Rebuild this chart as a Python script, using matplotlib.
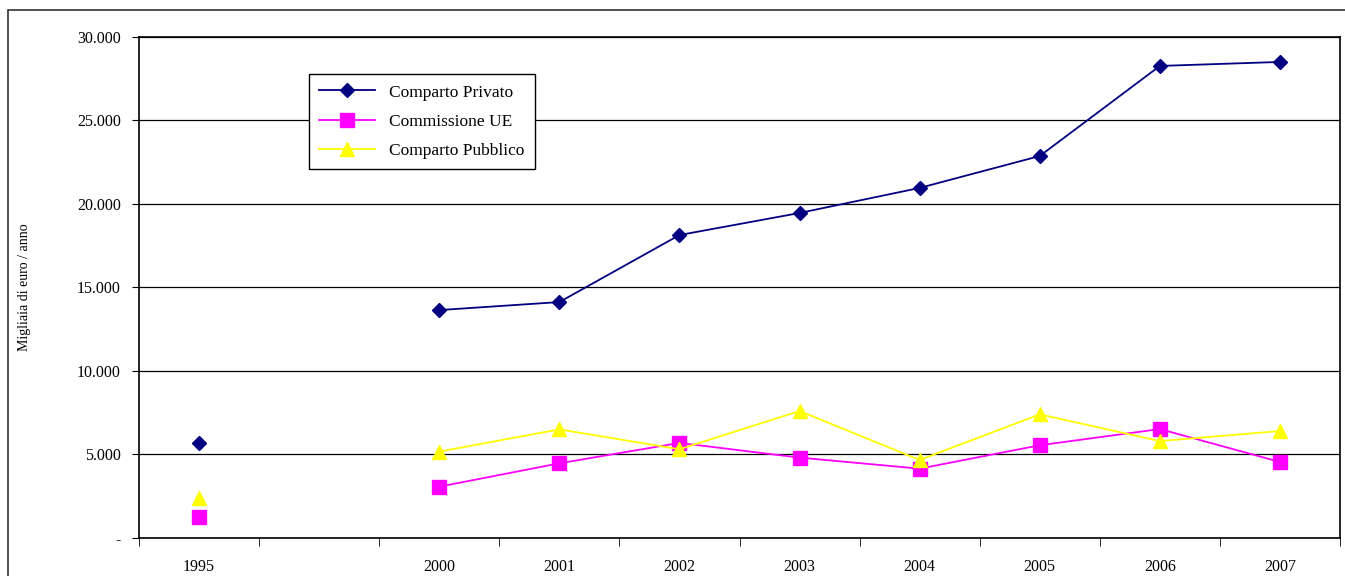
import numpy as np
import matplotlib.pyplot as plt
from matplotlib.patches import Rectangle

# categories (the second slot is an empty year column in the original)
years = ['1995', '', '2000', '2001', '2002', '2003', '2004', '2005', '2006', '2007']

# migliaia di euro / anno (NaN = no data)
privato = [5690, np.nan, 13640, 14120, 18130, 19450, 20950, 22860, 28250, 28490]
commissione = [1260, np.nan, 3070, 4470, 5690, 4810, 4150, 5550, 6520, 4550]
pubblico = [2370, np.nan, 5170, 6500, 5310, 7600, 4670, 7400, 5800, 6400]

y_ticks = [0, 5000, 10000, 15000, 20000, 25000, 30000]
y_labels = ['-', '5.000', '10.000', '15.000', '20.000', '25.000', '30.000']

plt.rcParams['font.family'] = ['Liberation Serif', 'DejaVu Serif']

fig = plt.figure(figsize=(13.45, 5.76), dpi=100)
ax = fig.add_axes([139 / 1345, 1 - 538 / 576, 1201 / 1345, (538 - 36.7) / 576])

# outer chart frame (cropped at right/bottom)
fig.patches.append(Rectangle((8 / 1345, -0.1), 1.2, 1 - 10 / 576 + 0.1,
                             transform=fig.transFigure, fill=False,
                             edgecolor='#333333', linewidth=1.2))

x = np.arange(len(years))
ax.plot(x, privato, color='#000080', marker='D', markersize=7, linewidth=1.3,
        label='Comparto Privato')
ax.plot(x, commissione, color='#FF00FF', marker='s', markersize=10, linewidth=1.3,
        label='Commissione UE')
ax.plot(x, pubblico, color='#FFFF00', marker='^', markersize=10, linewidth=1.3,
        label='Comparto Pubblico')

ax.set_xlim(-0.5, len(years) - 0.5)
ax.set_ylim(0, 30000)

ax.set_yticks(y_ticks)
ax.set_yticklabels(y_labels, fontsize=11.5)
ax.yaxis.grid(True, color='black', linewidth=0.9)
ax.set_axisbelow(True)
ax.tick_params(axis='y', length=5, direction='out', pad=8)

ax.set_xticks(x)
ax.set_xticklabels(years, fontsize=11.5)
ax.set_xticks(np.arange(len(years) + 1) - 0.5, minor=True)
ax.tick_params(axis='x', which='major', length=0, pad=15)
ax.tick_params(axis='x', which='minor', length=6, direction='out')

for s in ax.spines.values():
    s.set_color('black')
    s.set_linewidth(1.2)

ax.set_ylabel('Migliaia di euro / anno', fontsize=10, labelpad=33)

leg = ax.legend(loc='upper left', bbox_to_anchor=(0.1415, 0.9256), fontsize=12.5,
                fancybox=False, framealpha=1, edgecolor='black', borderaxespad=0,
                borderpad=0.6, labelspacing=0.75, handlelength=3.2)
leg.get_frame().set_linewidth(1.0)

plt.savefig('out.png', dpi=100)
